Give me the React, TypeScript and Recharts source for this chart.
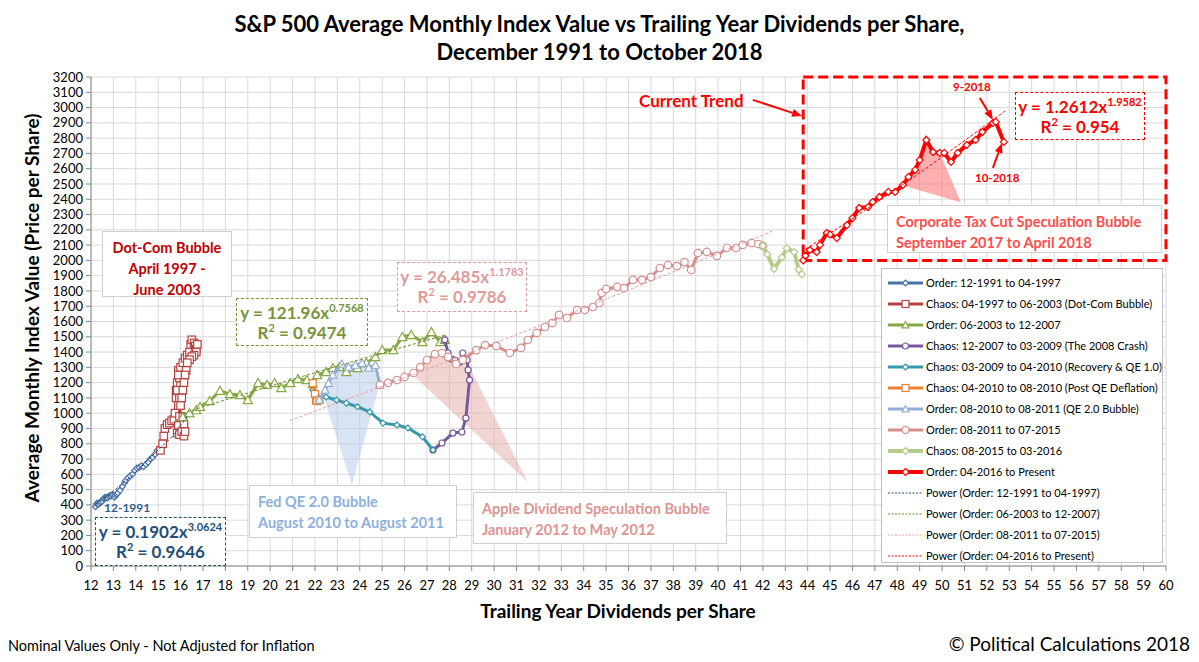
import React from "react";
import {
  CartesianGrid,
  ReferenceArea,
  ReferenceLine,
  Scatter,
  ScatterChart,
  XAxis,
  YAxis,
} from "recharts";

type P = [number, number];

// ---- series values: [dividends, index] ----
const order9197: P[] = [
  [12.2, 388], [12.25, 408], [12.3, 412], [12.35, 405], [12.4, 415], [12.45, 418],
  [12.5, 425], [12.55, 440], [12.6, 445], [12.65, 450], [12.7, 448], [12.75, 445],
  [12.8, 455], [12.85, 462], [12.9, 458], [12.95, 467], [13.0, 460], [13.05, 450],
  [13.1, 462], [13.15, 470], [13.2, 478], [13.3, 495], [13.4, 520], [13.5, 545],
  [13.55, 560], [13.65, 575], [13.75, 590], [13.85, 600], [13.95, 625], [14.05, 640],
  [14.15, 645], [14.25, 655], [14.35, 650], [14.45, 665], [14.55, 680], [14.65, 700],
  [14.75, 710], [14.85, 730], [14.95, 755], [15.05, 765], [15.1, 757],
];
const chaosDotCom: P[] = [
  [15.1, 757], [15.2, 800], [15.25, 850], [15.3, 900], [15.4, 925], [15.5, 935],
  [15.6, 950], [15.7, 960], [15.75, 1000], [15.8, 1100], [15.8, 1150], [15.85, 1200],
  [15.9, 1280], [15.95, 1230], [16.0, 1180], [15.95, 1100], [15.9, 1050], [15.85, 1150],
  [15.9, 1250], [16.0, 1300], [16.1, 1330], [16.2, 1360], [16.3, 1380], [16.4, 1400],
  [16.45, 1450], [16.5, 1480], [16.6, 1460], [16.65, 1440], [16.7, 1420], [16.75, 1450],
  [16.7, 1400], [16.6, 1380], [16.5, 1370], [16.4, 1350], [16.3, 1330], [16.25, 1280],
  [16.2, 1250], [16.15, 1200], [16.1, 1150], [16.05, 1100], [16.0, 1050], [15.95, 980],
  [15.9, 920], [15.85, 870], [15.95, 860], [16.05, 880], [16.15, 850], [16.2, 880],
  [16.15, 930], [16.1, 975],
];
const order0307: P[] = [
  [16.1, 975], [16.4, 1000], [16.7, 1020], [16.87, 1042], [17.3, 1080], [17.76, 1147],
  [18.2, 1125], [18.65, 1119], [19.0, 1086], [19.46, 1197], [19.86, 1185], [20.2, 1197],
  [20.5, 1165], [20.9, 1197], [21.24, 1224], [21.64, 1217], [21.9, 1190], [22.1, 1250],
  [22.5, 1270], [22.8, 1296], [23.1, 1302], [23.4, 1270], [23.9, 1296], [24.3, 1328],
  [24.7, 1368], [25.0, 1413], [25.5, 1413], [25.9, 1499], [26.3, 1512], [26.8, 1466],
  [27.2, 1531], [27.6, 1466], [27.8, 1480],
];
const crash2008: P[] = [
  [27.8, 1480], [27.94, 1394], [28.1, 1355], [28.25, 1348], [28.47, 1335], [28.6, 1394],
  [28.8, 1348], [28.84, 1283], [28.9, 1217], [28.74, 968], [28.56, 877], [28.16, 870],
  [27.67, 805], [27.27, 759],
];
const recoveryQE1: P[] = [
  [27.27, 759], [26.8, 845], [26.15, 903], [25.66, 923], [25.04, 935], [24.45, 1008],
  [23.9, 1042], [23.4, 1066], [22.96, 1086], [22.5, 1106], [22.2, 1099], [22.0, 1139],
  [21.9, 1152], [21.9, 1197],
];
const postQE: P[] = [[21.9, 1197], [22.0, 1125], [22.05, 1083], [22.1, 1079], [22.2, 1087]];
const qe2Bubble: P[] = [
  [22.2, 1087], [22.45, 1152], [22.6, 1197], [22.8, 1250], [23.2, 1322], [23.5, 1302],
  [23.8, 1315], [24.1, 1328], [24.4, 1296], [24.7, 1315], [24.9, 1185],
];
const order1115: P[] = [
  [24.9, 1185], [25.26, 1198], [25.66, 1217], [26.0, 1237], [26.4, 1263], [26.7, 1302],
  [27.0, 1348], [27.36, 1387], [27.67, 1394], [27.94, 1368], [28.3, 1322], [28.6, 1348],
  [29.2, 1413], [29.6, 1446], [30.1, 1440], [30.7, 1394], [31.2, 1427], [31.5, 1479],
  [31.9, 1525], [32.27, 1564], [32.6, 1590], [32.9, 1643], [33.25, 1623], [33.7, 1675],
  [34.05, 1675], [34.4, 1695], [34.7, 1721], [34.8, 1786], [35.0, 1813], [35.5, 1826],
  [35.8, 1819], [36.2, 1872], [36.6, 1872], [37.0, 1891], [37.4, 1950], [37.76, 1970],
  [38.16, 1963], [38.5, 1989], [38.8, 1937], [39.1, 2048], [39.5, 2055], [39.95, 2029],
  [40.4, 2081], [40.8, 2081], [41.1, 2101], [41.5, 2114], [41.8, 2107], [42.0, 2095],
];
const chaos1516: P[] = [
  [42.0, 2095], [42.2, 2040], [42.5, 1944], [42.85, 2020], [43.07, 2080], [43.4, 2054],
  [43.6, 1940], [43.74, 1910],
];
const order16now: P[] = [
  [43.8, 2000], [43.9, 2030], [44.1, 2068], [44.4, 2055], [44.55, 2101], [44.85, 2179],
  [45.0, 2170], [45.3, 2146], [45.75, 2231], [46.0, 2277], [46.3, 2343], [46.7, 2349],
  [46.9, 2382], [47.2, 2415], [47.6, 2448], [47.9, 2448], [48.25, 2493], [48.5, 2546],
  [48.8, 2592], [49.0, 2657], [49.3, 2788], [49.6, 2709], [49.9, 2703], [50.1, 2703],
  [50.4, 2644], [50.7, 2703], [51.1, 2755], [51.5, 2788], [51.8, 2840], [52.27, 2899],
  [52.4, 2906], [52.76, 2775],
];

// power trend lines
const trend9197: P[] = [[12.2, 403], [13, 490], [14, 615], [15, 760], [15.7, 860], [16.3, 980]];
const trend0307: P[] = [[16.1, 1000], [20, 1177], [24, 1351], [27.8, 1510]];
const trend1115: P[] = [[20.9, 952], [30, 1457], [36, 1806], [42.5, 2196]];
const trend16now: P[] = [[43.9, 2073], [48, 2471], [52.8, 2976]];

// shaded callout wedges
const fedQeShade: P[] = [
  [22.4, 1100], [22.6, 1197], [22.8, 1250], [23.2, 1322], [23.5, 1302], [23.8, 1315],
  [24.1, 1328], [24.4, 1296], [24.7, 1315], [24.9, 1197], [23.65, 530],
];
const appleShade: P[] = [
  [26.46, 1237], [26.7, 1302], [27.0, 1348], [27.36, 1387], [27.67, 1394], [27.94, 1368],
  [28.3, 1322], [28.8, 1330], [31.5, 550],
];
const taxCutShade: P[] = [
  [48.25, 2490], [48.5, 2546], [48.8, 2592], [49.0, 2657], [49.3, 2788], [49.6, 2709],
  [49.9, 2703], [50.84, 2380],
];

// arrows [from, to]
const currentTrendArrow: P[] = [[41.55, 3050], [43.75, 2945]];
const sep2018Arrow: P[] = [[51.69, 3063], [52.27, 2919]];
const oct2018Arrow: P[] = [[52.27, 2605], [52.68, 2768]];

const xTicks = [
  12, 13, 14, 15, 16, 17, 18, 19, 20, 21, 22, 23, 24, 25, 26, 27, 28, 29, 30, 31, 32, 33,
  34, 35, 36, 37, 38, 39, 40, 41, 42, 43, 44, 45, 46, 47, 48, 49, 50, 51, 52, 53, 54, 55,
  56, 57, 58, 59, 60,
];
const yTicks = [
  0, 100, 200, 300, 400, 500, 600, 700, 800, 900, 1000, 1100, 1200, 1300, 1400, 1500,
  1600, 1700, 1800, 1900, 2000, 2100, 2200, 2300, 2400, 2500, 2600, 2700, 2800, 2900,
  3000, 3100, 3200,
];

const FONT = "Lato, 'Open Sans', sans-serif";

type Kind = "diamond" | "square" | "triangle" | "circle";

const series = [
  { name: "Order: 12-1991 to 04-1997", data: order9197, color: "#4a72a8", kind: "diamond" as Kind, size: 6, width: 3 },
  { name: "Chaos: 04-1997 to 06-2003 (Dot-Com Bubble)", data: chaosDotCom, color: "#b5413e", kind: "square" as Kind, size: 7.5, width: 3 },
  { name: "Order: 06-2003 to 12-2007", data: order0307, color: "#86a844", kind: "triangle" as Kind, size: 9, width: 3 },
  { name: "Chaos: 12-2007 to 03-2009 (The 2008 Crash)", data: crash2008, color: "#765a9c", kind: "circle" as Kind, size: 6, width: 3 },
  { name: "Chaos: 03-2009 to 04-2010 (Recovery & QE 1.0)", data: recoveryQE1, color: "#3799a8", kind: "diamond" as Kind, size: 6, width: 3 },
  { name: "Chaos: 04-2010 to 08-2010 (Post QE Deflation)", data: postQE, color: "#ea8130", kind: "square" as Kind, size: 7, width: 3 },
  { name: "Order: 08-2010 to 08-2011 (QE 2.0 Bubble)", data: qe2Bubble, color: "#92aed4", kind: "triangle" as Kind, size: 8, width: 3 },
  { name: "Order: 08-2011 to 07-2015", data: order1115, color: "#d58e8c", kind: "circle" as Kind, size: 7.5, width: 3 },
  { name: "Chaos: 08-2015 to 03-2016", data: chaos1516, color: "#b3cc8c", kind: "diamond" as Kind, size: 7, width: 4 },
  { name: "Order: 04-2016 to Present", data: order16now, color: "#ff0000", kind: "diamond" as Kind, size: 7, width: 4 },
];

const trends = [
  { name: "Power (Order: 12-1991 to 04-1997)", data: trend9197, color: "#1f4e79" },
  { name: "Power (Order: 06-2003 to 12-2007)", data: trend0307, color: "#6b8e23" },
  { name: "Power (Order: 08-2011 to 07-2015)", data: trend1115, color: "#e8a0a0" },
  { name: "Power (Order: 04-2016 to Present)", data: trend16now, color: "#ff0000" },
];

const pts = (d: P[]) => d.map(([x, y]) => ({ x, y }));

function markerPath(kind: Kind, cx: number, cy: number, size: number, color: string) {
  const s = size / 2;
  const common = { fill: "#fff", stroke: color, strokeWidth: 1.2 };
  if (kind === "square") return <rect x={cx - s} y={cy - s} width={size} height={size} {...common} />;
  if (kind === "circle") return <circle cx={cx} cy={cy} r={s} {...common} />;
  if (kind === "triangle")
    return <polygon points={`${cx},${cy - s} ${cx + s},${cy + s * 0.8} ${cx - s},${cy + s * 0.8}`} {...common} />;
  return <polygon points={`${cx},${cy - s} ${cx + s},${cy} ${cx},${cy + s} ${cx - s},${cy}`} {...common} />;
}

const makeShape = (kind: Kind, size: number, color: string) => (props: any) => {
  const { cx, cy } = props;
  if (cx == null || cy == null) return <g />;
  return markerPath(kind, cx, cy, size, color);
};

const noShape = () => <g />;

const polygonLine = (fill: string) => (props: any) => {
  const p = (props.points || []) as { x: number; y: number }[];
  return <polygon points={p.map((q) => `${q.x},${q.y}`).join(" ")} fill={fill} stroke="none" />;
};

const arrowShape = (props: any) => {
  const { x1, y1, x2, y2 } = props;
  const a = Math.atan2(y2 - y1, x2 - x1);
  const L = 10;
  const w = 4;
  const bx = x2 - L * Math.cos(a);
  const by = y2 - L * Math.sin(a);
  const head = `${x2},${y2} ${bx + w * Math.sin(a)},${by - w * Math.cos(a)} ${bx - w * Math.sin(a)},${by + w * Math.cos(a)}`;
  return (
    <g>
      <line x1={x1} y1={y1} x2={bx} y2={by} stroke="#ff0000" strokeWidth={2} />
      <polygon points={head} fill="#ff0000" />
    </g>
  );
};

const abs = (left: number, top: number, extra: React.CSSProperties = {}): React.CSSProperties => ({
  position: "absolute",
  left,
  top,
  fontFamily: FONT,
  ...extra,
});

const supStyle: React.CSSProperties = { fontSize: 11, position: "relative", top: -7, lineHeight: 0 };

function EqBox(props: { left: number; top: number; w: number; h: number; color: string; a: string; exp: string; r2: string }) {
  const { left, top, w, h, color, a, exp, r2 } = props;
  return (
    <div
      style={abs(left, top, {
        width: w,
        height: h,
        boxSizing: "border-box",
        border: `1px dashed ${color}`,
        background: "#fff",
        color,
        fontWeight: 700,
        fontSize: 17,
        textAlign: "center",
        lineHeight: "20px",
        paddingTop: 4,
        whiteSpace: "nowrap",
      })}
    >
      <div>
        y = {a}x<span style={supStyle}>{exp}</span>
      </div>
      <div>
        R<span style={supStyle}>2</span> = {r2}
      </div>
    </div>
  );
}

function TextBox(props: { left: number; top: number; w: number; h: number; color: string; lines: string[]; align?: "left" | "center"; size?: number }) {
  const { left, top, w, h, color, lines, align = "left", size = 15 } = props;
  return (
    <div
      style={abs(left, top, {
        width: w,
        height: h,
        boxSizing: "border-box",
        border: "1px solid #d0d0d0",
        background: "#fff",
        color,
        fontWeight: 700,
        fontSize: size,
        textAlign: align,
        lineHeight: "21px",
        padding: align === "left" ? "5px 8px" : "5px 0",
        whiteSpace: "nowrap",
      })}
    >
      {lines.map((l) => (
        <div key={l}>{l}</div>
      ))}
    </div>
  );
}

function LegendSample({ color, kind, size, width, dashed }: { color: string; kind?: Kind; size?: number; width?: number; dashed?: boolean }) {
  return (
    <svg width={36} height={10} style={{ marginRight: 2 }}>
      <line x1={0} y1={5} x2={35} y2={5} stroke={color} strokeWidth={dashed ? 1 : width} strokeDasharray={dashed ? "2 1.5" : undefined} />
      {kind ? markerPath(kind, 17.5, 5, Math.min(size || 6, 7), color) : null}
    </svg>
  );
}

export default function App() {
  return (
    <div style={{ position: "absolute", left: 0, top: 0, width: 1199, height: 662, background: "#fff", fontFamily: FONT }}>
      <ScatterChart width={1199} height={662} margin={{ top: 77, right: 33, bottom: 66, left: 41 }}>
        <CartesianGrid stroke="#d9d9d9" strokeWidth={1} />
        <XAxis
          type="number"
          dataKey="x"
          domain={[12, 60]}
          ticks={xTicks}
          interval={0}
          height={30}
          tickSize={5}
          tickMargin={10}
          stroke="#868686"
          tick={{ fill: "#000", fontSize: 13, fontFamily: FONT }}
          allowDataOverflow
        />
        <YAxis
          type="number"
          dataKey="y"
          domain={[0, 3200]}
          ticks={yTicks}
          interval={0}
          width={50}
          tickSize={5}
          tickMargin={3}
          stroke="#868686"
          tick={{ fill: "#000", fontSize: 13, fontFamily: FONT }}
          allowDataOverflow
        />
        <Scatter data={pts(fedQeShade)} line={polygonLine("rgba(184,206,234,0.55)")} shape={noShape} isAnimationActive={false} />
        <Scatter data={pts(appleShade)} line={polygonLine("rgba(230,170,168,0.5)")} shape={noShape} isAnimationActive={false} />
        <Scatter data={pts(taxCutShade)} line={polygonLine("rgba(255,110,110,0.55)")} shape={noShape} isAnimationActive={false} />
        {series.map((s) => (
          <Scatter
            key={s.name}
            name={s.name}
            data={pts(s.data)}
            fill={s.color}
            line={{ stroke: s.color, strokeWidth: s.width }}
            lineType="joint"
            lineJointType="linear"
            shape={makeShape(s.kind, s.size, s.color)}
            isAnimationActive={false}
          />
        ))}
        {trends.map((t) => (
          <Scatter
            key={t.name}
            name={t.name}
            data={pts(t.data)}
            fill={t.color}
            line={{ stroke: t.color, strokeWidth: 1, strokeDasharray: "3 2" }}
            lineType="joint"
            lineJointType="monotoneX"
            shape={noShape}
            isAnimationActive={false}
          />
        ))}
        <ReferenceArea x1={43.8} x2={60} y1={2000} y2={3200} fill="none" stroke="#ff0000" strokeWidth={3} strokeDasharray="10 5" />
        <ReferenceLine segment={[{ x: currentTrendArrow[0][0], y: currentTrendArrow[0][1] }, { x: currentTrendArrow[1][0], y: currentTrendArrow[1][1] }]} shape={arrowShape} />
        <ReferenceLine segment={[{ x: sep2018Arrow[0][0], y: sep2018Arrow[0][1] }, { x: sep2018Arrow[1][0], y: sep2018Arrow[1][1] }]} shape={arrowShape} />
        <ReferenceLine segment={[{ x: oct2018Arrow[0][0], y: oct2018Arrow[0][1] }, { x: oct2018Arrow[1][0], y: oct2018Arrow[1][1] }]} shape={arrowShape} />
      </ScatterChart>

      {/* titles */}
      <div style={abs(0, 10, { width: 1199, textAlign: "center", fontWeight: 700, fontSize: 22, lineHeight: "28px", color: "#000" })}>
        <div>S&amp;P 500 Average Monthly Index Value vs Trailing Year Dividends per Share,</div>
        <div>December 1991 to October 2018</div>
      </div>
      <div
        style={abs(31, 308, {
          transform: "translate(-50%, -50%) rotate(-90deg)",
          whiteSpace: "nowrap",
          fontWeight: 700,
          fontSize: 19,
        })}
      >
        Average Monthly Index Value (Price per Share)
      </div>
      <div style={abs(0, 599, { width: 1236, textAlign: "center", fontWeight: 700, fontSize: 19 })}>
        Trailing Year Dividends per Share
      </div>
      <div style={abs(8, 637, { fontSize: 14.5 })}>Nominal Values Only - Not Adjusted for Inflation</div>
      <div style={abs(900, 632, { width: 290, textAlign: "right", fontSize: 19 })}>© Political Calculations 2018</div>

      {/* annotations */}
      <TextBox left={102} top={231} w={130} h={66} color="#c00000" lines={["Dot-Com Bubble", "April 1997 -", "June 2003"]} align="center" size={14.5} />
      <TextBox left={249} top={485} w={208} h={53} color="#8eb0dc" lines={["Fed QE 2.0 Bubble", "August 2010 to August 2011"]} size={14.5} />
      <TextBox left={473} top={492} w={254} h={52} color="#de9492" lines={["Apple Dividend Speculation Bubble", "January 2012 to May 2012"]} size={14.5} />
      <TextBox left={887} top={205} w={275} h={48} color="#ff4d4d" lines={["Corporate Tax Cut Speculation Bubble", "September 2017 to April 2018"]} size={14.5} />

      <EqBox left={95} top={517} w={131} h={49} color="#1f4e79" a="0.1902" exp="3.0624" r2="0.9646" />
      <EqBox left={236} top={298} w={132} h={48} color="#77933c" a="121.96" exp="0.7568" r2="0.9474" />
      <EqBox left={397} top={262} w={130} h={50} color="#df9a98" a="26.485" exp="1.1783" r2="0.9786" />
      <EqBox left={1015} top={92} w={130} h={48} color="#ff0000" a="1.2612" exp="1.9582" r2="0.954" />

      <div style={abs(104, 500, { fontSize: 12, fontWeight: 700, color: "#2f5d8c" })}>12-1991</div>
      <div style={abs(953, 80, { fontSize: 11.5, fontWeight: 700, color: "#ff0000" })}>9-2018</div>
      <div style={abs(975, 171, { fontSize: 11.5, fontWeight: 700, color: "#ff0000" })}>10-2018</div>
      <div style={abs(639, 90, { fontSize: 17, fontWeight: 700, color: "#ff0000" })}>Current Trend</div>

      {/* legend */}
      <div
        style={abs(881, 268, {
          width: 282,
          height: 295,
          boxSizing: "border-box",
          border: "1px solid #bfbfbf",
          background: "#fff",
          paddingTop: 3,
          paddingLeft: 6,
          fontSize: 11,
        })}
      >
        {series.map((s) => (
          <div key={s.name} style={{ height: 21, display: "flex", alignItems: "center", whiteSpace: "nowrap" }}>
            <LegendSample color={s.color} kind={s.kind} size={s.size} width={s.width} />
            {s.name}
          </div>
        ))}
        {trends.map((t) => (
          <div key={t.name} style={{ height: 21, display: "flex", alignItems: "center", whiteSpace: "nowrap" }}>
            <LegendSample color={t.color} dashed />
            {t.name}
          </div>
        ))}
      </div>
    </div>
  );
}
